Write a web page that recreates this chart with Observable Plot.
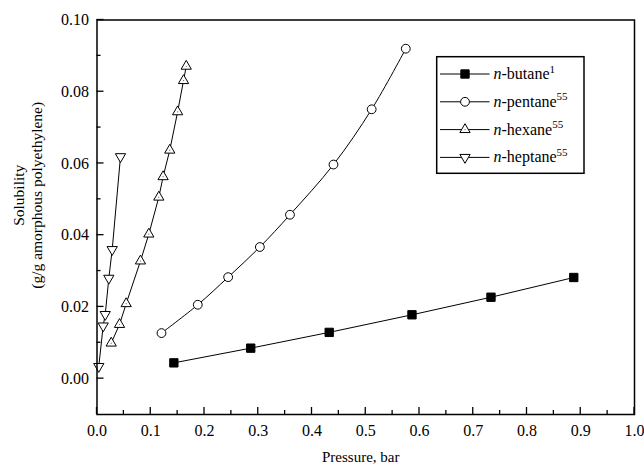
<!DOCTYPE html>
<html>
<head>
<meta charset="utf-8">
<script src="https://cdn.jsdelivr.net/npm/d3@7"></script>
<script src="https://cdn.jsdelivr.net/npm/@observablehq/plot@0.6"></script>
<style>
  body { margin: 0; background: #fff; }
  svg { display: block; }
</style>
</head>
<body>
<div id="chart"></div>
<script>
// Alkane solubility in amorphous polyethylene vs. pressure
const seriesNames = ["butane", "pentane", "hexane", "heptane"];
const seriesRefs = ["1", "55", "55", "55"];

const butanePressure = [0.143, 0.286, 0.432, 0.586, 0.733, 0.887];
const butaneSolubility = [0.0044, 0.0085, 0.0129, 0.0178, 0.0227, 0.0282];

const pentanePressure = [0.120, 0.1875, 0.244, 0.303, 0.359, 0.440, 0.511, 0.5745];
const pentaneSolubility = [0.0127, 0.0206, 0.0283, 0.0367, 0.0457, 0.0597, 0.0751, 0.0920];

const hexanePressure = [0.0264, 0.0419, 0.0543, 0.0809, 0.0964, 0.115, 0.123, 0.1354, 0.150, 0.161, 0.166];
const hexaneSolubility = [0.0099, 0.0151, 0.0209, 0.0328, 0.0403, 0.0506, 0.0563, 0.0637, 0.0744, 0.0831, 0.0871];

const heptanePressure = [0.0033, 0.0115, 0.0153, 0.022, 0.0283, 0.0437];
const heptaneSolubility = [0.0034, 0.0147, 0.0179, 0.0280, 0.0360, 0.0619];

const xTicks = [0.0, 0.1, 0.2, 0.3, 0.4, 0.5, 0.6, 0.7, 0.8, 0.9, 1.0];
const xMinorTicks = [0.05, 0.15, 0.25, 0.35, 0.45, 0.55, 0.65, 0.75, 0.85, 0.95];
const yTicks = [0.00, 0.02, 0.04, 0.06, 0.08, 0.10];
const yMinorTicks = [0.01, 0.03, 0.05, 0.07, 0.09];

const xLabel = "Pressure, bar";
const yLabel = "Solubility\n(g/g amorphous polyethylene)";

const toRows = (name, ps, ss) => ps.map((p, i) => ({series: name, p, s: ss[i]}));
const butane = toRows("butane", butanePressure, butaneSolubility);
const pentane = toRows("pentane", pentanePressure, pentaneSolubility);
const hexane = toRows("hexane", hexanePressure, hexaneSolubility);
const heptane = toRows("heptane", heptanePressure, heptaneSolubility);

// Downward-pointing triangle (d3.symbolTriangle flipped)
const triangleDown = {
  draw(context, size) {
    const y = -Math.sqrt(size / (Math.sqrt(3) * 3));
    context.moveTo(0, -y * 2);
    context.lineTo(-Math.sqrt(3) * y, y);
    context.lineTo(Math.sqrt(3) * y, y);
    context.closePath();
  }
};

const styles = {
  butane:  {symbol: "square",   r: 4.7, fill: "black"},
  pentane: {symbol: "circle",   r: 4.4, fill: "white"},
  hexane:  {symbol: "triangle", r: 3.8, fill: "white"},
  heptane: {symbol: triangleDown, r: 3.8, fill: "white"}
};

const font = "'Liberation Serif', 'Times New Roman', serif";

const dots = (data, name) => Plot.dot(data, {
  x: "p", y: "s", symbol: styles[name].symbol, r: styles[name].r,
  fill: styles[name].fill, stroke: "black", strokeWidth: 1
});

const chart = Plot.plot({
  width: 644,
  height: 465,
  marginLeft: 96.5,
  marginRight: 10,
  marginTop: 19.5,
  marginBottom: 51,
  x: {domain: [0, 1]},
  y: {domain: [-0.01, 0.10]},
  style: {fontFamily: font, fontSize: "16px", background: "white", color: "black"},
  marks: [
    Plot.axisX({ticks: xTicks, tickFormat: ".1f", tickSize: 0, tickPadding: 10, label: null}),
    Plot.axisY({ticks: yTicks, tickFormat: ".2f", tickSize: 0, tickPadding: 8, label: null}),
    Plot.text([xLabel], {text: d => d, frameAnchor: "bottom", textAnchor: "middle", lineAnchor: "bottom", dx: -5, dy: 47.5, fontSize: 15}),
    Plot.text([yLabel], {text: d => d, frameAnchor: "left", textAnchor: "middle", lineAnchor: "middle", rotate: -90, dx: -69.8, dy: -22, fontSize: 15.5, lineHeight: 1.15}),
    Plot.line(butane, {x: "p", y: "s", stroke: "black", strokeWidth: 1}),
    Plot.line(pentane, {x: "p", y: "s", stroke: "black", strokeWidth: 1, curve: "catmull-rom"}),
    Plot.line(hexane, {x: "p", y: "s", stroke: "black", strokeWidth: 1}),
    Plot.line(heptane, {x: "p", y: "s", stroke: "black", strokeWidth: 1}),
    dots(butane, "butane"),
    dots(pentane, "pentane"),
    dots(hexane, "hexane"),
    Plot.dot(hexane, {x: "p", y: "s", r: 0.6, fill: "#666"}),
    dots(heptane, "heptane"),
    Plot.frame({stroke: "black", strokeWidth: 1.5})
  ]
});

document.getElementById("chart").append(chart);

// Inward tick marks on the bottom and left edges, placed with the chart's scales
const xs = chart.scale("x"), ys = chart.scale("y");
const left = xs.range[0], bottom = ys.range[0];
const svg = d3.select(chart);
const ticks = svg.append("g").attr("stroke", "black").attr("stroke-width", 1.3);
const addX = (vals, len) => vals.forEach(v => {
  const px = xs.apply(v);
  ticks.append("line").attr("x1", px).attr("x2", px).attr("y1", bottom).attr("y2", bottom - len);
});
const addY = (vals, len) => vals.forEach(v => {
  const py = ys.apply(v);
  ticks.append("line").attr("x1", left).attr("x2", left + len).attr("y1", py).attr("y2", py);
});
addX(xTicks, 7); addX(xMinorTicks, 4);
addY(yTicks, 7); addY(yMinorTicks, 4);

// Legend box
const legend = svg.append("g")
  .style("font-family", font).style("font-size", "16px").style("text-anchor", "start");
legend.append("rect")
  .attr("x", 436.7).attr("y", 56.7).attr("width", 147.3).attr("height", 116.6)
  .attr("fill", "white").attr("stroke", "black").attr("stroke-width", 1.5);
seriesNames.forEach((name, i) => {
  const cy = 74 + i * 27.8;
  const st = styles[name];
  legend.append("line").attr("x1", 440).attr("x2", 489.5).attr("y1", cy).attr("y2", cy)
    .attr("stroke", "black").attr("stroke-width", 1);
  const symType = typeof st.symbol === "string"
    ? {square: d3.symbolSquare, circle: d3.symbolCircle, triangle: d3.symbolTriangle}[st.symbol]
    : st.symbol;
  legend.append("path")
    .attr("transform", `translate(465,${cy})`)
    .attr("d", d3.symbol(symType, Math.PI * st.r * st.r)())
    .attr("fill", st.fill).attr("stroke", "black").attr("stroke-width", 1);
  if (name === "hexane") {
    legend.append("circle").attr("cx", 465).attr("cy", cy).attr("r", 0.6).attr("fill", "#666");
  }
  const t = legend.append("text").attr("x", 493.5).attr("y", cy + 5)
    .attr("text-anchor", "start").style("text-anchor", "start");
  t.append("tspan").style("font-style", "italic").text("n");
  t.append("tspan").text("-" + name);
  t.append("tspan").style("font-size", "11px").attr("dy", -6.5).text(seriesRefs[i]);
});
</script>
</body>
</html>
